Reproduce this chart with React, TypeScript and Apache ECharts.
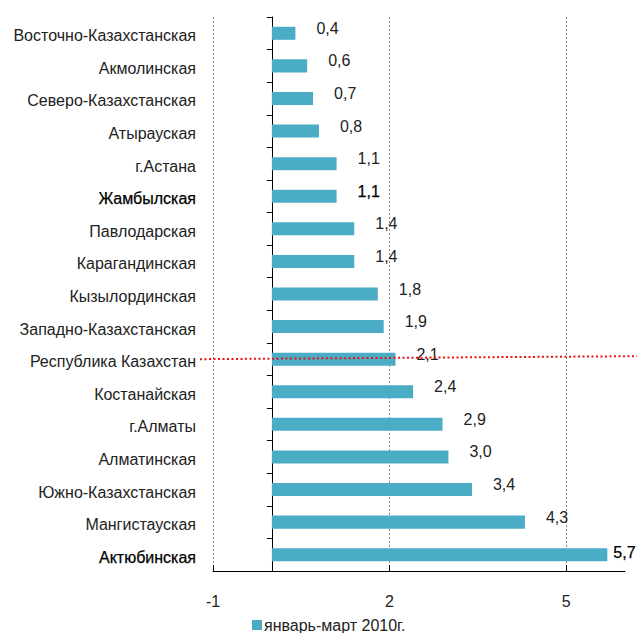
import React, { useEffect, useRef } from 'react';
import * as echarts from 'echarts';

const categories = [
  'Восточно-Казахстанская',
  'Акмолинская',
  'Северо-Казахстанская',
  'Атырауская',
  'г.Астана',
  'Жамбылская',
  'Павлодарская',
  'Карагандинская',
  'Кызылординская',
  'Западно-Казахстанская',
  'Республика Казахстан',
  'Костанайская',
  'г.Алматы',
  'Алматинская',
  'Южно-Казахстанская',
  'Мангистауская',
  'Актюбинская',
];
const values = [0.4, 0.6, 0.7, 0.8, 1.1, 1.1, 1.4, 1.4, 1.8, 1.9, 2.1, 2.4, 2.9, 3.0, 3.4, 4.3, 5.7];
const xTicks = [-1, 2, 5];
const highlighted = ['Жамбылская', 'Актюбинская'];
const seriesName = 'январь-март 2010г.';
const averageCategory = 'Республика Казахстан';

const FONT = '"Liberation Sans", Arial, sans-serif';

export default function App() {
  const ref = useRef<HTMLDivElement>(null);
  useEffect(() => {
    document.body.style.margin = '0';
    if (!ref.current) return;
    const chart = echarts.init(ref.current, undefined, { renderer: 'svg' });
    const fmt = (v: number) => v.toFixed(1).replace('.', ',');
    const data = values.map((v, i) => {
      const isHi = highlighted.includes(categories[i]);
      const item: any = { value: v };
      const label: any = {};
      if (isHi) {
        label.color = '#000';
        label.textBorderColor = '#000';
        label.textBorderWidth = 0.25;
      }
      if (i === values.length - 1) {
        label.distance = 6;
        label.offset = [0, -2];
      }
      item.label = label;
      return item;
    });
    chart.setOption({
      animation: false,
      textStyle: { fontFamily: FONT },
      grid: { left: 213, right: 12, top: 17, bottom: 62, containLabel: false, outerBoundsMode: 'none' },
      legend: {
        data: [seriesName],
        left: 252,
        top: 617,
        padding: 0,
        icon: 'rect',
        itemWidth: 10,
        itemHeight: 10,
        itemGap: 4,
        textStyle: { fontSize: 16, color: '#222', fontFamily: FONT, padding: [0, 0, 0, -3] },
      },
      xAxis: {
        type: 'value',
        min: -1,
        max: 6,
        axisLine: { show: true, onZero: false, lineStyle: { color: '#000', width: 1 } },
        axisTick: { show: true, inside: true, length: 6, customValues: xTicks, lineStyle: { color: '#000' } },
        axisLabel: { customValues: xTicks, margin: 22, fontSize: 16, color: '#222', fontFamily: FONT },
        splitLine: { show: true, lineStyle: { color: '#888', type: [2, 2], width: 1 } },
      },
      yAxis: {
        type: 'category',
        data: categories,
        inverse: true,
        axisLine: { show: true, onZero: true, lineStyle: { color: '#000', width: 1 } },
        axisTick: { show: true, length: 5, lineStyle: { color: '#000' } },
        splitLine: { show: false },
        axisLabel: {
          margin: 17,
          fontSize: 16,
          fontFamily: FONT,
          formatter: (v: string) => (highlighted.includes(v) ? `{b|${v}}` : `{n|${v}}`),
          rich: {
            n: { fontSize: 16, color: '#222', fontFamily: FONT, padding: [5, 0, 0, 0] },
            b: { fontSize: 16, color: '#000', fontFamily: FONT, textBorderColor: '#000', textBorderWidth: 0.25, padding: [5, 0, 0, 0] },
          },
        },
      },
      series: [
        {
          name: seriesName,
          type: 'bar',
          data,
          barWidth: '40%',
          itemStyle: { color: '#4BACC6' },
          label: {
            show: true,
            position: 'right',
            distance: 21,
            offset: [0, -5],
            fontSize: 16,
            color: '#222',
            fontFamily: FONT,
            formatter: (p: any) => fmt(p.value),
          },
        },
      ],
    });
    const y = chart.convertToPixel({ yAxisIndex: 0 }, averageCategory) as number;
    chart.setOption({
      graphic: [
        {
          type: 'line',
          z: 100,
          shape: { x1: 200, y1: y, x2: 637, y2: y - 3 },
          style: { stroke: '#f01010', lineWidth: 2, lineDash: [2, 2.5] },
        },
      ],
    });
    return () => chart.dispose();
  }, []);
  return <div ref={ref} style={{ width: 637, height: 633 }} />;
}
